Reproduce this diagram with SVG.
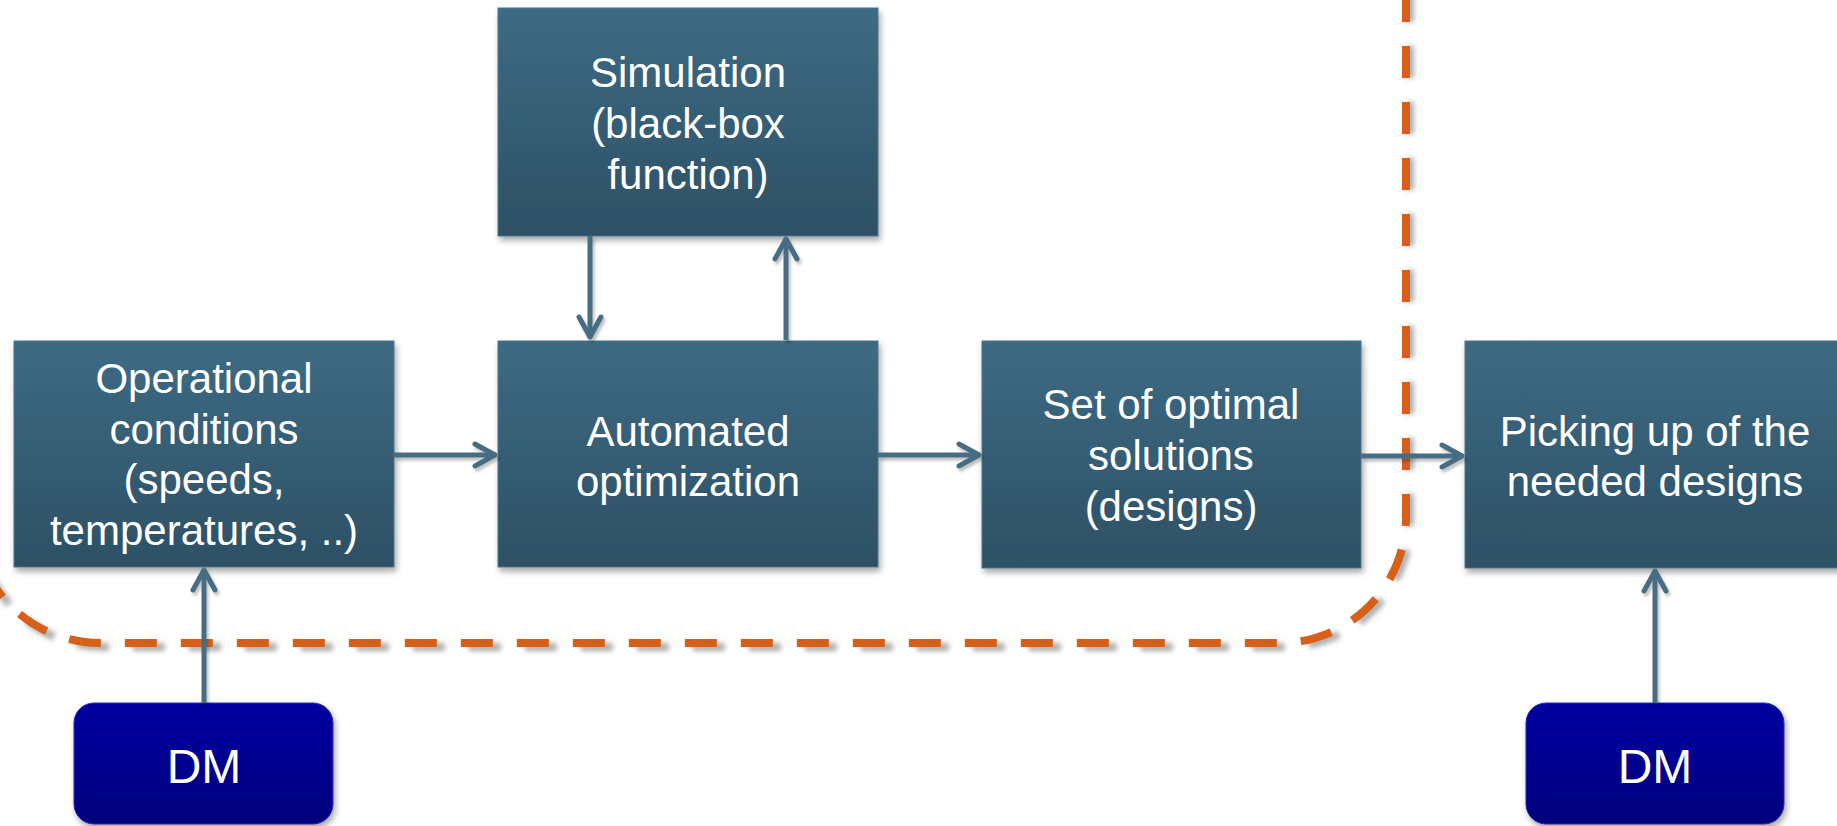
<svg xmlns="http://www.w3.org/2000/svg" width="1837" height="826" viewBox="0 0 1837 826">
  <defs>
    <linearGradient id="boxGrad" x1="0" y1="0" x2="0" y2="1">
      <stop offset="0" stop-color="#3d6b83"/>
      <stop offset="1" stop-color="#2d5065"/>
    </linearGradient>
    <linearGradient id="dmGrad" x1="0" y1="0" x2="0" y2="1">
      <stop offset="0" stop-color="#0000a2"/>
      <stop offset="1" stop-color="#00007c"/>
    </linearGradient>
    <filter id="shadow" x="-10%" y="-10%" width="120%" height="130%">
      <feDropShadow dx="2" dy="4" stdDeviation="3" flood-color="#000" flood-opacity="0.35"/>
    </filter>
    <filter id="lineShadow" x="-5%" y="-5%" width="110%" height="110%">
      <feDropShadow dx="2" dy="3" stdDeviation="1.5" flood-color="#000" flood-opacity="0.25"/>
    </filter>
    <filter id="blur" x="-5%" y="-5%" width="110%" height="110%">
      <feGaussianBlur stdDeviation="2.5"/>
    </filter>
    <marker id="arrow" markerUnits="userSpaceOnUse" markerWidth="32" markerHeight="32" viewBox="0 0 32 32" refX="27" refY="16" orient="auto">
      <path d="M 6 5 L 26 16 L 6 27" fill="none" stroke="#466d83" stroke-width="5" stroke-linecap="round" stroke-linejoin="round"/>
    </marker>
    <style>
      .box { fill: url(#boxGrad); stroke: #4a768c; stroke-width: 1; filter: url(#shadow); }
      .dm { fill: url(#dmGrad); stroke: #2a2ab0; stroke-width: 1; filter: url(#shadow); }
      .lbl { font-family: "Liberation Sans", Arial, sans-serif; font-size: 42px; fill: #ffffff; text-anchor: middle; }
      .dmlbl { font-family: "Liberation Sans", Arial, sans-serif; font-size: 48px; fill: #ffffff; text-anchor: middle; }
      .conn { fill: none; stroke: #466d83; stroke-width: 5; marker-end: url(#arrow); }
      .dash { fill: none; stroke: #d6601a; stroke-width: 8; stroke-dasharray: 32 24; }
      .dashShadow { fill: none; stroke: #9a9a9a; stroke-width: 8; stroke-dasharray: 32 24; filter: url(#blur); opacity: 0.8; }
    </style>
  </defs>

  <rect width="1837" height="826" fill="#ffffff"/>

  <!-- dashed boundary -->
  <g id="boundary">
    <path class="dashShadow" d="M 1410 -10 L 1410 521 A 126 126 0 0 1 1284 647 L 104 647 A 126 126 0 0 1 -22 521" />
    <path class="dash" d="M 1406 -10 L 1406 517 A 126 126 0 0 1 1280 643 L 100 643 A 126 126 0 0 1 -26 517" />
  </g>

  <g id="node-simulation">
    <rect class="box" x="498" y="8" width="380" height="228"/>
    <text class="lbl" x="688" y="87">Simulation</text>
    <text class="lbl" x="688" y="138">(black-box</text>
    <text class="lbl" x="688" y="189">function)</text>
  </g>

  <g id="node-operational">
    <rect class="box" x="14" y="341" width="380" height="226"/>
    <text class="lbl" x="204" y="393">Operational</text>
    <text class="lbl" x="204" y="444">conditions</text>
    <text class="lbl" x="204" y="494">(speeds,</text>
    <text class="lbl" x="204" y="545">temperatures, ..)</text>
  </g>

  <g id="node-automated">
    <rect class="box" x="498" y="341" width="380" height="226"/>
    <text class="lbl" x="688" y="446">Automated</text>
    <text class="lbl" x="688" y="496">optimization</text>
  </g>

  <g id="node-set">
    <rect class="box" x="982" y="341" width="379" height="227"/>
    <text class="lbl" x="1171" y="419">Set of optimal</text>
    <text class="lbl" x="1171" y="470">solutions</text>
    <text class="lbl" x="1171" y="521">(designs)</text>
  </g>

  <g id="node-picking">
    <rect class="box" x="1465" y="341" width="380" height="227"/>
    <text class="lbl" x="1655" y="446">Picking up of the</text>
    <text class="lbl" x="1655" y="496">needed designs</text>
  </g>

  <g id="node-dm-left">
    <rect class="dm" x="74" y="703" width="259" height="121" rx="20" ry="20"/>
    <text class="dmlbl" x="204" y="783">DM</text>
  </g>

  <g id="node-dm-right">
    <rect class="dm" x="1526" y="703" width="258" height="121" rx="20" ry="20"/>
    <text class="dmlbl" x="1655" y="783">DM</text>
  </g>

  <g id="connectors" filter="url(#lineShadow)">
    <line class="conn" x1="590" y1="236" x2="590" y2="338"/>
    <line class="conn" x1="786" y1="340" x2="786" y2="238"/>
    <line class="conn" x1="394" y1="455" x2="496" y2="455"/>
    <line class="conn" x1="878" y1="455" x2="980" y2="455"/>
    <line class="conn" x1="1361" y1="456" x2="1463" y2="456"/>
    <line class="conn" x1="204" y1="703" x2="204" y2="569"/>
    <line class="conn" x1="1655" y1="703" x2="1655" y2="570"/>
  </g>
</svg>
